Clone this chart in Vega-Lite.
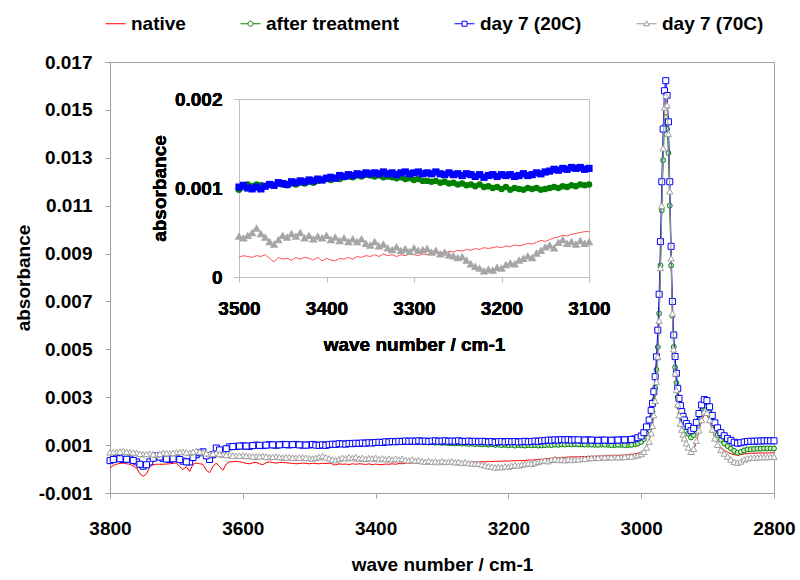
{
"$schema": "https://vega.github.io/schema/vega-lite/v6.json",
"width": 664, "height": 431,
"autosize": {"type": "none"},
"padding": {"left": 110, "top": 62, "right": 26, "bottom": 87},
"background": "#ffffff",
"config": {
  "font": "Liberation Sans",
  "view": {"stroke": "#a0a0a0", "strokeWidth": 1},
  "axis": {"labelFont": "Liberation Sans", "titleFont": "Liberation Sans", "labelFontSize": 19, "labelFontWeight": "bold", "labelColor": "#000000", "titleFontSize": 19, "titleFontWeight": "bold", "titleColor": "#000000", "domainColor": "#a0a0a0", "tickColor": "#a0a0a0", "tickSize": 5, "grid": false, "labelOverlap": false},
  "legend": {"orient": "none", "legendX": -5, "legendY": -49, "direction": "horizontal", "columns": 4, "padding": 0, "labelFont": "Liberation Sans", "labelFontSize": 19, "labelFontWeight": "bold", "labelColor": "#000000", "symbolSize": 400, "symbolStrokeWidth": 1, "symbolOpacity": 1, "labelOffset": 5, "columnPadding": 52, "labelLimit": 300}
},
"data": {"values": [
{"s":"n","x":3800,"y":0.00005},{"s":"n","x":3790,"y":0.0002},{"s":"n","x":3780,"y":0.00025},{"s":"n","x":3770,"y":0.0002},{"s":"n","x":3760,"y":0.00005},{"s":"n","x":3750,"y":-0.0003},{"s":"n","x":3740,"y":0.0001},{"s":"n","x":3730,"y":0.0002},{"s":"n","x":3720,"y":0.0002},{"s":"n","x":3710,"y":0.00022},{"s":"n","x":3700,"y":0.00025},{"s":"n","x":3690,"y":-0.00002},{"s":"n","x":3680,"y":-0.0001},{"s":"n","x":3670,"y":0.00025},{"s":"n","x":3660,"y":0.0002},{"s":"n","x":3650,"y":-0.00015},{"s":"n","x":3640,"y":0.00025},{"s":"n","x":3630,"y":-0.00005},{"s":"n","x":3620,"y":0.0003},{"s":"n","x":3610,"y":0.00032},{"s":"n","x":3600,"y":0.00028},{"s":"n","x":3590,"y":0.00022},{"s":"n","x":3580,"y":0.00028},{"s":"n","x":3570,"y":0.00018},{"s":"n","x":3560,"y":0.0003},{"s":"n","x":3550,"y":0.00025},{"s":"n","x":3540,"y":0.00028},{"s":"n","x":3530,"y":0.00025},{"s":"n","x":3520,"y":0.00022},{"s":"n","x":3510,"y":0.00025},
{"s":"n","x":3500,"y":0.00022},{"s":"n","x":3495,"y":0.00024},{"s":"n","x":3490,"y":0.00023},{"s":"n","x":3485,"y":0.00022},{"s":"n","x":3480,"y":0.00024},{"s":"n","x":3475,"y":0.00023},{"s":"n","x":3470,"y":0.00025},{"s":"n","x":3465,"y":0.00021},{"s":"n","x":3460,"y":0.00017},{"s":"n","x":3455,"y":0.00022},
{"s":"n","x":3450,"y":0.0002},{"s":"n","x":3445,"y":0.00021},{"s":"n","x":3440,"y":0.00019},{"s":"n","x":3435,"y":0.00022},{"s":"n","x":3430,"y":0.0002},{"s":"n","x":3425,"y":0.00022},{"s":"n","x":3420,"y":0.00021},{"s":"n","x":3415,"y":0.00019},{"s":"n","x":3410,"y":0.00022},{"s":"n","x":3405,"y":0.00018},
{"s":"n","x":3400,"y":0.00021},{"s":"n","x":3395,"y":0.00019},{"s":"n","x":3390,"y":0.00018},{"s":"n","x":3385,"y":0.00021},{"s":"n","x":3380,"y":0.0002},{"s":"n","x":3375,"y":0.00022},{"s":"n","x":3370,"y":0.0002},{"s":"n","x":3365,"y":0.00023},{"s":"n","x":3360,"y":0.00022},{"s":"n","x":3355,"y":0.00024},
{"s":"n","x":3350,"y":0.00023},{"s":"n","x":3345,"y":0.00025},{"s":"n","x":3340,"y":0.00023},{"s":"n","x":3335,"y":0.00026},{"s":"n","x":3330,"y":0.00024},{"s":"n","x":3325,"y":0.00025},{"s":"n","x":3320,"y":0.00023},{"s":"n","x":3315,"y":0.00025},{"s":"n","x":3310,"y":0.00024},{"s":"n","x":3305,"y":0.00026},
{"s":"n","x":3300,"y":0.00025},{"s":"n","x":3295,"y":0.00024},{"s":"n","x":3290,"y":0.00026},{"s":"n","x":3285,"y":0.00025},{"s":"n","x":3280,"y":0.00027},{"s":"n","x":3275,"y":0.00026},{"s":"n","x":3270,"y":0.00028},{"s":"n","x":3265,"y":0.00027},{"s":"n","x":3260,"y":0.00029},{"s":"n","x":3255,"y":0.00028},
{"s":"n","x":3250,"y":0.0003},{"s":"n","x":3245,"y":0.00029},{"s":"n","x":3240,"y":0.00031},{"s":"n","x":3235,"y":0.0003},{"s":"n","x":3230,"y":0.00032},{"s":"n","x":3225,"y":0.00031},{"s":"n","x":3220,"y":0.00033},{"s":"n","x":3215,"y":0.00032},{"s":"n","x":3210,"y":0.00033},{"s":"n","x":3205,"y":0.00034},
{"s":"n","x":3200,"y":0.00033},{"s":"n","x":3195,"y":0.00035},{"s":"n","x":3190,"y":0.00034},{"s":"n","x":3185,"y":0.00036},{"s":"n","x":3180,"y":0.00035},{"s":"n","x":3175,"y":0.00036},{"s":"n","x":3170,"y":0.00038},{"s":"n","x":3165,"y":0.00037},{"s":"n","x":3160,"y":0.00039},{"s":"n","x":3155,"y":0.00041},
{"s":"n","x":3150,"y":0.0004},{"s":"n","x":3145,"y":0.00042},{"s":"n","x":3140,"y":0.00044},{"s":"n","x":3135,"y":0.00045},{"s":"n","x":3130,"y":0.00047},{"s":"n","x":3125,"y":0.00046},{"s":"n","x":3120,"y":0.00048},{"s":"n","x":3115,"y":0.00049},{"s":"n","x":3110,"y":0.0005},{"s":"n","x":3105,"y":0.00051},
{"s":"n","x":3100,"y":0.00051},
{"s":"n","x":3090,"y":0.00052},{"s":"n","x":3080,"y":0.00053},{"s":"n","x":3070,"y":0.00054},{"s":"n","x":3060,"y":0.00055},{"s":"n","x":3050,"y":0.00056},{"s":"n","x":3040,"y":0.00057},{"s":"n","x":3030,"y":0.00058},
{"s":"n","x":3020,"y":0.0006},{"s":"n","x":3010,"y":0.00063},{"s":"n","x":3005,"y":0.00066},{"s":"n","x":3000,"y":0.0007},{"s":"n","x":2996,"y":0.0008},{"s":"n","x":2992,"y":0.00098},{"s":"n","x":2988,"y":0.00122},{"s":"n","x":2985,"y":0.00156},{"s":"n","x":2983,"y":0.00185},{"s":"n","x":2981,"y":0.0023},{"s":"n","x":2979,"y":0.0029},{"s":"n","x":2977,"y":0.0037},{"s":"n","x":2975,"y":0.0047},{"s":"n","x":2973,"y":0.0062},{"s":"n","x":2971,"y":0.0084},{"s":"n","x":2969,"y":0.0109},{"s":"n","x":2967,"y":0.0133},{"s":"n","x":2965,"y":0.015},{"s":"n","x":2963,"y":0.0155},{"s":"n","x":2961,"y":0.0151},{"s":"n","x":2959,"y":0.0139},{"s":"n","x":2957,"y":0.0115},{"s":"n","x":2955,"y":0.0088},{"s":"n","x":2953,"y":0.0065},{"s":"n","x":2951,"y":0.005},{"s":"n","x":2949,"y":0.004},{"s":"n","x":2947,"y":0.0033},{"s":"n","x":2945,"y":0.0027},{"s":"n","x":2943,"y":0.00228},{"s":"n","x":2941,"y":0.00195},{"s":"n","x":2939,"y":0.0017},{"s":"n","x":2937,"y":0.0015},{"s":"n","x":2935,"y":0.00135},{"s":"n","x":2932,"y":0.00115},{"s":"n","x":2929,"y":0.00095},{"s":"n","x":2925,"y":0.00068},{"s":"n","x":2921,"y":0.0008},{"s":"n","x":2917,"y":0.00112},{"s":"n","x":2913,"y":0.0016},{"s":"n","x":2909,"y":0.002},{"s":"n","x":2905,"y":0.00228},{"s":"n","x":2901,"y":0.00226},{"s":"n","x":2897,"y":0.002},{"s":"n","x":2893,"y":0.00162},{"s":"n","x":2889,"y":0.0013},{"s":"n","x":2885,"y":0.00108},{"s":"n","x":2880,"y":0.0009},{"s":"n","x":2875,"y":0.00078},{"s":"n","x":2870,"y":0.0007},{"s":"n","x":2865,"y":0.00064},{"s":"n","x":2860,"y":0.0006},{"s":"n","x":2855,"y":0.00058},{"s":"n","x":2850,"y":0.0006},{"s":"n","x":2845,"y":0.00063},{"s":"n","x":2840,"y":0.00065},{"s":"n","x":2835,"y":0.00066},{"s":"n","x":2830,"y":0.00066},{"s":"n","x":2825,"y":0.00067},{"s":"n","x":2820,"y":0.00067},{"s":"n","x":2815,"y":0.00067},{"s":"n","x":2810,"y":0.00067},{"s":"n","x":2805,"y":0.00068},{"s":"n","x":2800,"y":0.00068},

{"s":"a","x":3800,"y":0.00033},{"s":"a","x":3790,"y":0.00042},{"s":"a","x":3780,"y":0.00038},{"s":"a","x":3770,"y":0.0004},{"s":"a","x":3760,"y":0.00028},{"s":"a","x":3750,"y":0.0001},{"s":"a","x":3740,"y":0.00028},{"s":"a","x":3730,"y":0.00052},{"s":"a","x":3720,"y":0.00043},{"s":"a","x":3710,"y":0.00038},{"s":"a","x":3700,"y":0.00042},{"s":"a","x":3690,"y":0.0003},{"s":"a","x":3680,"y":0.00027},{"s":"a","x":3670,"y":0.00057},{"s":"a","x":3660,"y":0.00069},{"s":"a","x":3650,"y":0.00037},{"s":"a","x":3640,"y":0.00085},{"s":"a","x":3630,"y":0.00067},{"s":"a","x":3620,"y":0.0009},{"s":"a","x":3610,"y":0.00092},{"s":"a","x":3600,"y":0.00094},{"s":"a","x":3590,"y":0.00092},{"s":"a","x":3580,"y":0.00097},{"s":"a","x":3570,"y":0.00095},{"s":"a","x":3560,"y":0.00099},{"s":"a","x":3550,"y":0.00097},{"s":"a","x":3540,"y":0.001},{"s":"a","x":3530,"y":0.00099},{"s":"a","x":3520,"y":0.00101},{"s":"a","x":3510,"y":0.00099},
{"s":"a","x":3500,"y":0.00098},{"s":"a","x":3495,"y":0.00101},{"s":"a","x":3490,"y":0.00104},{"s":"a","x":3485,"y":0.00102},{"s":"a","x":3480,"y":0.00104},{"s":"a","x":3475,"y":0.00103},{"s":"a","x":3470,"y":0.00102},{"s":"a","x":3465,"y":0.00104},{"s":"a","x":3460,"y":0.00103},{"s":"a","x":3455,"y":0.00105},
{"s":"a","x":3450,"y":0.00104},{"s":"a","x":3445,"y":0.00103},{"s":"a","x":3440,"y":0.00105},{"s":"a","x":3435,"y":0.00104},{"s":"a","x":3430,"y":0.00106},{"s":"a","x":3425,"y":0.00105},{"s":"a","x":3420,"y":0.00107},{"s":"a","x":3415,"y":0.00106},{"s":"a","x":3410,"y":0.00108},{"s":"a","x":3405,"y":0.00109},
{"s":"a","x":3400,"y":0.0011},{"s":"a","x":3395,"y":0.00109},{"s":"a","x":3390,"y":0.00111},{"s":"a","x":3385,"y":0.0011},{"s":"a","x":3380,"y":0.00112},{"s":"a","x":3375,"y":0.00113},{"s":"a","x":3370,"y":0.00112},{"s":"a","x":3365,"y":0.00114},{"s":"a","x":3360,"y":0.00113},{"s":"a","x":3355,"y":0.00115},
{"s":"a","x":3350,"y":0.00114},{"s":"a","x":3345,"y":0.00113},{"s":"a","x":3340,"y":0.00114},{"s":"a","x":3335,"y":0.00112},{"s":"a","x":3330,"y":0.00113},{"s":"a","x":3325,"y":0.00112},{"s":"a","x":3320,"y":0.00111},{"s":"a","x":3315,"y":0.00112},{"s":"a","x":3310,"y":0.0011},{"s":"a","x":3305,"y":0.00111},
{"s":"a","x":3300,"y":0.00109},{"s":"a","x":3295,"y":0.0011},{"s":"a","x":3290,"y":0.00108},{"s":"a","x":3285,"y":0.00108},{"s":"a","x":3280,"y":0.00107},{"s":"a","x":3275,"y":0.00108},{"s":"a","x":3270,"y":0.00106},{"s":"a","x":3265,"y":0.00107},{"s":"a","x":3260,"y":0.00105},{"s":"a","x":3255,"y":0.00106},
{"s":"a","x":3250,"y":0.00104},{"s":"a","x":3245,"y":0.00105},{"s":"a","x":3240,"y":0.00103},{"s":"a","x":3235,"y":0.00104},{"s":"a","x":3230,"y":0.00102},{"s":"a","x":3225,"y":0.00104},{"s":"a","x":3220,"y":0.00101},{"s":"a","x":3215,"y":0.00102},{"s":"a","x":3210,"y":0.001},{"s":"a","x":3205,"y":0.00101},
{"s":"a","x":3200,"y":0.00099},{"s":"a","x":3195,"y":0.00101},{"s":"a","x":3190,"y":0.00098},{"s":"a","x":3185,"y":0.001},{"s":"a","x":3180,"y":0.00099},{"s":"a","x":3175,"y":0.00098},{"s":"a","x":3170,"y":0.001},{"s":"a","x":3165,"y":0.00099},{"s":"a","x":3160,"y":0.001},{"s":"a","x":3155,"y":0.00098},
{"s":"a","x":3150,"y":0.00099},{"s":"a","x":3145,"y":0.001},{"s":"a","x":3140,"y":0.00101},{"s":"a","x":3135,"y":0.001},{"s":"a","x":3130,"y":0.00102},{"s":"a","x":3125,"y":0.00101},{"s":"a","x":3120,"y":0.00103},{"s":"a","x":3115,"y":0.00102},{"s":"a","x":3110,"y":0.00104},{"s":"a","x":3105,"y":0.00103},
{"s":"a","x":3100,"y":0.00104},
{"s":"a","x":3090,"y":0.00103},{"s":"a","x":3080,"y":0.00102},{"s":"a","x":3070,"y":0.00101},{"s":"a","x":3060,"y":0.00102},{"s":"a","x":3050,"y":0.00101},{"s":"a","x":3040,"y":0.001},{"s":"a","x":3030,"y":0.00101},
{"s":"a","x":3020,"y":0.001},{"s":"a","x":3010,"y":0.00103},{"s":"a","x":3005,"y":0.00107},{"s":"a","x":3000,"y":0.00113},{"s":"a","x":2996,"y":0.00125},{"s":"a","x":2992,"y":0.00148},{"s":"a","x":2988,"y":0.00175},{"s":"a","x":2985,"y":0.00212},{"s":"a","x":2983,"y":0.0024},{"s":"a","x":2981,"y":0.00285},{"s":"a","x":2979,"y":0.0034},{"s":"a","x":2977,"y":0.00415},{"s":"a","x":2975,"y":0.0051},{"s":"a","x":2973,"y":0.0065},{"s":"a","x":2971,"y":0.0085},{"s":"a","x":2969,"y":0.0108},{"s":"a","x":2967,"y":0.0129},{"s":"a","x":2965,"y":0.0143},{"s":"a","x":2963,"y":0.0147},{"s":"a","x":2961,"y":0.0142},{"s":"a","x":2959,"y":0.0132},{"s":"a","x":2957,"y":0.011},{"s":"a","x":2955,"y":0.0085},{"s":"a","x":2953,"y":0.0064},{"s":"a","x":2951,"y":0.0051},{"s":"a","x":2949,"y":0.00425},{"s":"a","x":2947,"y":0.0036},{"s":"a","x":2945,"y":0.003},{"s":"a","x":2943,"y":0.0026},{"s":"a","x":2941,"y":0.00232},{"s":"a","x":2939,"y":0.0021},{"s":"a","x":2937,"y":0.0019},{"s":"a","x":2935,"y":0.00175},{"s":"a","x":2932,"y":0.0016},{"s":"a","x":2929,"y":0.00148},{"s":"a","x":2925,"y":0.00132},{"s":"a","x":2921,"y":0.00142},{"s":"a","x":2917,"y":0.00168},{"s":"a","x":2913,"y":0.00205},{"s":"a","x":2909,"y":0.00242},{"s":"a","x":2905,"y":0.00266},{"s":"a","x":2901,"y":0.00262},{"s":"a","x":2897,"y":0.00236},{"s":"a","x":2893,"y":0.00198},{"s":"a","x":2889,"y":0.00165},{"s":"a","x":2885,"y":0.00142},{"s":"a","x":2880,"y":0.00122},{"s":"a","x":2875,"y":0.00107},{"s":"a","x":2870,"y":0.00096},{"s":"a","x":2865,"y":0.00086},{"s":"a","x":2860,"y":0.00076},{"s":"a","x":2855,"y":0.00068},{"s":"a","x":2850,"y":0.00072},{"s":"a","x":2845,"y":0.00078},{"s":"a","x":2840,"y":0.00082},{"s":"a","x":2835,"y":0.00083},{"s":"a","x":2830,"y":0.00084},{"s":"a","x":2825,"y":0.00085},{"s":"a","x":2820,"y":0.00085},{"s":"a","x":2815,"y":0.00086},{"s":"a","x":2810,"y":0.00086},{"s":"a","x":2805,"y":0.00086},{"s":"a","x":2800,"y":0.00086},

{"s":"b","x":3800,"y":0.00035},{"s":"b","x":3790,"y":0.00045},{"s":"b","x":3780,"y":0.0004},{"s":"b","x":3770,"y":0.00042},{"s":"b","x":3760,"y":0.0003},{"s":"b","x":3750,"y":0.00012},{"s":"b","x":3740,"y":0.0003},{"s":"b","x":3730,"y":0.00055},{"s":"b","x":3720,"y":0.00045},{"s":"b","x":3710,"y":0.0004},{"s":"b","x":3700,"y":0.00045},{"s":"b","x":3690,"y":0.00033},{"s":"b","x":3680,"y":0.0003},{"s":"b","x":3670,"y":0.0006},{"s":"b","x":3660,"y":0.00072},{"s":"b","x":3650,"y":0.0004},{"s":"b","x":3640,"y":0.00088},{"s":"b","x":3630,"y":0.0007},{"s":"b","x":3620,"y":0.00093},{"s":"b","x":3610,"y":0.00095},{"s":"b","x":3600,"y":0.00097},{"s":"b","x":3590,"y":0.00095},{"s":"b","x":3580,"y":0.001},{"s":"b","x":3570,"y":0.00098},{"s":"b","x":3560,"y":0.00102},{"s":"b","x":3550,"y":0.001},{"s":"b","x":3540,"y":0.00103},{"s":"b","x":3530,"y":0.00101},{"s":"b","x":3520,"y":0.00103},{"s":"b","x":3510,"y":0.001},
{"s":"b","x":3500,"y":0.00101},{"s":"b","x":3495,"y":0.00103},{"s":"b","x":3490,"y":0.001},{"s":"b","x":3485,"y":0.00099},{"s":"b","x":3480,"y":0.00101},{"s":"b","x":3475,"y":0.00099},{"s":"b","x":3470,"y":0.00102},{"s":"b","x":3465,"y":0.00104},{"s":"b","x":3460,"y":0.00103},{"s":"b","x":3455,"y":0.00106},
{"s":"b","x":3450,"y":0.00105},{"s":"b","x":3445,"y":0.00104},{"s":"b","x":3440,"y":0.00107},{"s":"b","x":3435,"y":0.00106},{"s":"b","x":3430,"y":0.00108},{"s":"b","x":3425,"y":0.00107},{"s":"b","x":3420,"y":0.00109},{"s":"b","x":3415,"y":0.00108},{"s":"b","x":3410,"y":0.0011},{"s":"b","x":3405,"y":0.00109},
{"s":"b","x":3400,"y":0.00111},{"s":"b","x":3395,"y":0.00112},{"s":"b","x":3390,"y":0.00111},{"s":"b","x":3385,"y":0.00114},{"s":"b","x":3380,"y":0.00113},{"s":"b","x":3375,"y":0.00115},{"s":"b","x":3370,"y":0.00114},{"s":"b","x":3365,"y":0.00116},{"s":"b","x":3360,"y":0.00115},{"s":"b","x":3355,"y":0.00117},
{"s":"b","x":3350,"y":0.00116},{"s":"b","x":3345,"y":0.00117},{"s":"b","x":3340,"y":0.00116},{"s":"b","x":3335,"y":0.00118},{"s":"b","x":3330,"y":0.00116},{"s":"b","x":3325,"y":0.00117},{"s":"b","x":3320,"y":0.00115},{"s":"b","x":3315,"y":0.00117},{"s":"b","x":3310,"y":0.00118},{"s":"b","x":3305,"y":0.00116},
{"s":"b","x":3300,"y":0.00117},{"s":"b","x":3295,"y":0.00118},{"s":"b","x":3290,"y":0.00116},{"s":"b","x":3285,"y":0.00117},{"s":"b","x":3280,"y":0.00116},{"s":"b","x":3275,"y":0.00118},{"s":"b","x":3270,"y":0.00116},{"s":"b","x":3265,"y":0.00115},{"s":"b","x":3260,"y":0.00117},{"s":"b","x":3255,"y":0.00115},
{"s":"b","x":3250,"y":0.00116},{"s":"b","x":3245,"y":0.00114},{"s":"b","x":3240,"y":0.00116},{"s":"b","x":3235,"y":0.00115},{"s":"b","x":3230,"y":0.00113},{"s":"b","x":3225,"y":0.00115},{"s":"b","x":3220,"y":0.00112},{"s":"b","x":3215,"y":0.00114},{"s":"b","x":3210,"y":0.00115},{"s":"b","x":3205,"y":0.00113},
{"s":"b","x":3200,"y":0.00115},{"s":"b","x":3195,"y":0.00114},{"s":"b","x":3190,"y":0.00115},{"s":"b","x":3185,"y":0.00113},{"s":"b","x":3180,"y":0.00114},{"s":"b","x":3175,"y":0.00116},{"s":"b","x":3170,"y":0.00114},{"s":"b","x":3165,"y":0.00115},{"s":"b","x":3160,"y":0.00117},{"s":"b","x":3155,"y":0.00116},
{"s":"b","x":3150,"y":0.00118},{"s":"b","x":3145,"y":0.00119},{"s":"b","x":3140,"y":0.00121},{"s":"b","x":3135,"y":0.0012},{"s":"b","x":3130,"y":0.00122},{"s":"b","x":3125,"y":0.00121},{"s":"b","x":3120,"y":0.00123},{"s":"b","x":3115,"y":0.00122},{"s":"b","x":3110,"y":0.00123},{"s":"b","x":3105,"y":0.00121},
{"s":"b","x":3100,"y":0.00122},
{"s":"b","x":3090,"y":0.00121},{"s":"b","x":3080,"y":0.00122},{"s":"b","x":3070,"y":0.0012},{"s":"b","x":3060,"y":0.00121},{"s":"b","x":3050,"y":0.0012},{"s":"b","x":3040,"y":0.00121},{"s":"b","x":3030,"y":0.00122},
{"s":"b","x":3020,"y":0.00122},{"s":"b","x":3010,"y":0.00126},{"s":"b","x":3005,"y":0.00131},{"s":"b","x":3000,"y":0.00138},{"s":"b","x":2996,"y":0.00152},{"s":"b","x":2992,"y":0.00176},{"s":"b","x":2988,"y":0.00205},{"s":"b","x":2985,"y":0.00245},{"s":"b","x":2983,"y":0.00274},{"s":"b","x":2981,"y":0.00323},{"s":"b","x":2979,"y":0.00386},{"s":"b","x":2977,"y":0.00469},{"s":"b","x":2975,"y":0.0058},{"s":"b","x":2973,"y":0.0073},{"s":"b","x":2971,"y":0.0095},{"s":"b","x":2969,"y":0.012},{"s":"b","x":2967,"y":0.0142},{"s":"b","x":2965,"y":0.0158},{"s":"b","x":2963,"y":0.01622},{"s":"b","x":2961,"y":0.0156},{"s":"b","x":2959,"y":0.0145},{"s":"b","x":2957,"y":0.012},{"s":"b","x":2955,"y":0.0093},{"s":"b","x":2953,"y":0.007},{"s":"b","x":2951,"y":0.0056},{"s":"b","x":2949,"y":0.0047},{"s":"b","x":2947,"y":0.004},{"s":"b","x":2945,"y":0.00337},{"s":"b","x":2943,"y":0.00295},{"s":"b","x":2941,"y":0.00265},{"s":"b","x":2939,"y":0.0024},{"s":"b","x":2937,"y":0.0022},{"s":"b","x":2935,"y":0.00205},{"s":"b","x":2932,"y":0.0019},{"s":"b","x":2929,"y":0.00178},{"s":"b","x":2925,"y":0.0016},{"s":"b","x":2921,"y":0.0017},{"s":"b","x":2917,"y":0.00195},{"s":"b","x":2913,"y":0.00232},{"s":"b","x":2909,"y":0.00268},{"s":"b","x":2905,"y":0.0029},{"s":"b","x":2901,"y":0.00286},{"s":"b","x":2897,"y":0.0026},{"s":"b","x":2893,"y":0.00224},{"s":"b","x":2889,"y":0.00193},{"s":"b","x":2885,"y":0.00172},{"s":"b","x":2880,"y":0.00152},{"s":"b","x":2875,"y":0.00139},{"s":"b","x":2870,"y":0.00128},{"s":"b","x":2865,"y":0.0012},{"s":"b","x":2860,"y":0.00112},{"s":"b","x":2855,"y":0.00108},{"s":"b","x":2850,"y":0.0011},{"s":"b","x":2845,"y":0.00113},{"s":"b","x":2840,"y":0.00115},{"s":"b","x":2835,"y":0.00116},{"s":"b","x":2830,"y":0.00116},{"s":"b","x":2825,"y":0.00117},{"s":"b","x":2820,"y":0.00117},{"s":"b","x":2815,"y":0.00118},{"s":"b","x":2810,"y":0.00118},{"s":"b","x":2805,"y":0.00118},{"s":"b","x":2800,"y":0.00118},

{"s":"c","x":3800,"y":0.0007},{"s":"c","x":3790,"y":0.00072},{"s":"c","x":3780,"y":0.00074},{"s":"c","x":3770,"y":0.0007},{"s":"c","x":3760,"y":0.00068},{"s":"c","x":3750,"y":0.00062},{"s":"c","x":3740,"y":0.00065},{"s":"c","x":3730,"y":0.0006},{"s":"c","x":3720,"y":0.00068},{"s":"c","x":3710,"y":0.00066},{"s":"c","x":3700,"y":0.0007},{"s":"c","x":3690,"y":0.00072},{"s":"c","x":3680,"y":0.00068},{"s":"c","x":3670,"y":0.00076},{"s":"c","x":3660,"y":0.0007},{"s":"c","x":3650,"y":0.00062},{"s":"c","x":3640,"y":0.00066},{"s":"c","x":3630,"y":0.0006},{"s":"c","x":3620,"y":0.00058},{"s":"c","x":3610,"y":0.00055},{"s":"c","x":3600,"y":0.00057},{"s":"c","x":3590,"y":0.00054},{"s":"c","x":3580,"y":0.00052},{"s":"c","x":3570,"y":0.00055},{"s":"c","x":3560,"y":0.0005},{"s":"c","x":3550,"y":0.00052},{"s":"c","x":3540,"y":0.00048},{"s":"c","x":3530,"y":0.0005},{"s":"c","x":3520,"y":0.00047},{"s":"c","x":3510,"y":0.00049},
{"s":"c","x":3500,"y":0.00046},{"s":"c","x":3495,"y":0.00044},{"s":"c","x":3490,"y":0.00047},{"s":"c","x":3485,"y":0.0005},{"s":"c","x":3480,"y":0.00055},{"s":"c","x":3475,"y":0.00049},{"s":"c","x":3470,"y":0.00045},{"s":"c","x":3465,"y":0.0004},{"s":"c","x":3460,"y":0.00037},{"s":"c","x":3455,"y":0.00042},
{"s":"c","x":3450,"y":0.00047},{"s":"c","x":3445,"y":0.00045},{"s":"c","x":3440,"y":0.00049},{"s":"c","x":3435,"y":0.00046},{"s":"c","x":3430,"y":0.0005},{"s":"c","x":3425,"y":0.00044},{"s":"c","x":3420,"y":0.00047},{"s":"c","x":3415,"y":0.00043},{"s":"c","x":3410,"y":0.00046},{"s":"c","x":3405,"y":0.00044},
{"s":"c","x":3400,"y":0.00047},{"s":"c","x":3395,"y":0.00042},{"s":"c","x":3390,"y":0.00045},{"s":"c","x":3385,"y":0.00041},{"s":"c","x":3380,"y":0.00044},{"s":"c","x":3375,"y":0.0004},{"s":"c","x":3370,"y":0.00043},{"s":"c","x":3365,"y":0.0004},{"s":"c","x":3360,"y":0.00043},{"s":"c","x":3355,"y":0.00038},
{"s":"c","x":3350,"y":0.00036},{"s":"c","x":3345,"y":0.0004},{"s":"c","x":3340,"y":0.00035},{"s":"c","x":3335,"y":0.00037},{"s":"c","x":3330,"y":0.00033},{"s":"c","x":3325,"y":0.00031},{"s":"c","x":3320,"y":0.00034},{"s":"c","x":3315,"y":0.0003},{"s":"c","x":3310,"y":0.00032},{"s":"c","x":3305,"y":0.00029},
{"s":"c","x":3300,"y":0.00033},{"s":"c","x":3295,"y":0.0003},{"s":"c","x":3290,"y":0.00031},{"s":"c","x":3285,"y":0.00032},{"s":"c","x":3280,"y":0.00028},{"s":"c","x":3275,"y":0.0003},{"s":"c","x":3270,"y":0.00026},{"s":"c","x":3265,"y":0.00028},{"s":"c","x":3260,"y":0.00025},{"s":"c","x":3255,"y":0.00024},
{"s":"c","x":3250,"y":0.00022},{"s":"c","x":3245,"y":0.00023},{"s":"c","x":3240,"y":0.00019},{"s":"c","x":3235,"y":0.00015},{"s":"c","x":3230,"y":0.00012},{"s":"c","x":3225,"y":0.0001},{"s":"c","x":3220,"y":0.00007},{"s":"c","x":3215,"y":0.00009},{"s":"c","x":3210,"y":0.00008},{"s":"c","x":3205,"y":0.00011},
{"s":"c","x":3200,"y":0.0001},{"s":"c","x":3195,"y":0.00014},{"s":"c","x":3190,"y":0.00016},{"s":"c","x":3185,"y":0.00015},{"s":"c","x":3180,"y":0.00019},{"s":"c","x":3175,"y":0.00021},{"s":"c","x":3170,"y":0.00024},{"s":"c","x":3165,"y":0.00022},{"s":"c","x":3160,"y":0.00027},{"s":"c","x":3155,"y":0.0003},
{"s":"c","x":3150,"y":0.00034},{"s":"c","x":3145,"y":0.00036},{"s":"c","x":3140,"y":0.00033},{"s":"c","x":3135,"y":0.00039},{"s":"c","x":3130,"y":0.00042},{"s":"c","x":3125,"y":0.00038},{"s":"c","x":3120,"y":0.0004},{"s":"c","x":3115,"y":0.00037},{"s":"c","x":3110,"y":0.00041},{"s":"c","x":3105,"y":0.00038},
{"s":"c","x":3100,"y":0.0004},
{"s":"c","x":3090,"y":0.00042},{"s":"c","x":3080,"y":0.00045},{"s":"c","x":3070,"y":0.00047},{"s":"c","x":3060,"y":0.00048},{"s":"c","x":3050,"y":0.00049},{"s":"c","x":3040,"y":0.0005},{"s":"c","x":3030,"y":0.0005},
{"s":"c","x":3020,"y":0.00052},{"s":"c","x":3010,"y":0.00055},{"s":"c","x":3005,"y":0.00058},{"s":"c","x":3000,"y":0.00063},{"s":"c","x":2996,"y":0.00072},{"s":"c","x":2992,"y":0.0009},{"s":"c","x":2988,"y":0.00115},{"s":"c","x":2985,"y":0.0015},{"s":"c","x":2983,"y":0.0018},{"s":"c","x":2981,"y":0.00225},{"s":"c","x":2979,"y":0.00285},{"s":"c","x":2977,"y":0.00365},{"s":"c","x":2975,"y":0.0047},{"s":"c","x":2973,"y":0.0062},{"s":"c","x":2971,"y":0.0084},{"s":"c","x":2969,"y":0.011},{"s":"c","x":2967,"y":0.0134},{"s":"c","x":2965,"y":0.0151},{"s":"c","x":2963,"y":0.0156},{"s":"c","x":2961,"y":0.0152},{"s":"c","x":2959,"y":0.014},{"s":"c","x":2957,"y":0.0116},{"s":"c","x":2955,"y":0.0088},{"s":"c","x":2953,"y":0.0065},{"s":"c","x":2951,"y":0.005},{"s":"c","x":2949,"y":0.004},{"s":"c","x":2947,"y":0.0033},{"s":"c","x":2945,"y":0.0027},{"s":"c","x":2943,"y":0.00225},{"s":"c","x":2941,"y":0.0019},{"s":"c","x":2939,"y":0.00165},{"s":"c","x":2937,"y":0.00145},{"s":"c","x":2935,"y":0.00128},{"s":"c","x":2932,"y":0.00108},{"s":"c","x":2929,"y":0.0009},{"s":"c","x":2925,"y":0.00072},{"s":"c","x":2921,"y":0.00085},{"s":"c","x":2917,"y":0.00118},{"s":"c","x":2913,"y":0.00162},{"s":"c","x":2909,"y":0.00205},{"s":"c","x":2905,"y":0.00238},{"s":"c","x":2901,"y":0.00235},{"s":"c","x":2897,"y":0.00205},{"s":"c","x":2893,"y":0.00165},{"s":"c","x":2889,"y":0.00128},{"s":"c","x":2885,"y":0.00102},{"s":"c","x":2880,"y":0.0008},{"s":"c","x":2875,"y":0.00065},{"s":"c","x":2870,"y":0.00052},{"s":"c","x":2865,"y":0.0004},{"s":"c","x":2860,"y":0.0003},{"s":"c","x":2855,"y":0.00027},{"s":"c","x":2850,"y":0.00032},{"s":"c","x":2845,"y":0.0004},{"s":"c","x":2840,"y":0.00045},{"s":"c","x":2835,"y":0.00047},{"s":"c","x":2830,"y":0.00048},{"s":"c","x":2825,"y":0.00049},{"s":"c","x":2820,"y":0.0005},{"s":"c","x":2815,"y":0.0005},{"s":"c","x":2810,"y":0.0005},{"s":"c","x":2805,"y":0.00051},{"s":"c","x":2800,"y":0.00052},

{"s":"n","x":3795,"y":0.00015},{"s":"n","x":3785,"y":0.00024},{"s":"n","x":3775,"y":0.00022},{"s":"n","x":3765,"y":0.00012},{"s":"n","x":3755,"y":-0.0002},{"s":"n","x":3745,"y":-0.0002},{"s":"n","x":3735,"y":0.00018},{"s":"n","x":3725,"y":0.0002},{"s":"n","x":3715,"y":0.00021},{"s":"n","x":3705,"y":0.00024},{"s":"n","x":3695,"y":0.0001},{"s":"n","x":3685,"y":0.0001},{"s":"n","x":3675,"y":0.0002},{"s":"n","x":3665,"y":0.00022},{"s":"n","x":3655,"y":-0.00005},{"s":"n","x":3645,"y":0.0001},{"s":"n","x":3635,"y":0.0001},{"s":"n","x":3625,"y":0.0002},{"s":"n","x":3615,"y":0.00031},{"s":"n","x":3605,"y":0.0003},{"s":"n","x":3595,"y":0.00024},{"s":"n","x":3585,"y":0.00026},{"s":"n","x":3575,"y":0.00022},{"s":"n","x":3565,"y":0.00026},{"s":"n","x":3555,"y":0.00027},{"s":"n","x":3545,"y":0.00027},{"s":"n","x":3535,"y":0.00026},{"s":"n","x":3525,"y":0.00024},{"s":"n","x":3515,"y":0.00023},{"s":"n","x":3505,"y":0.00024},
{"s":"b","x":3795,"y":0.0004},{"s":"b","x":3785,"y":0.00043},{"s":"b","x":3775,"y":0.00041},{"s":"b","x":3765,"y":0.00036},{"s":"b","x":3755,"y":0.0002},{"s":"b","x":3745,"y":0.00018},{"s":"b","x":3735,"y":0.00045},{"s":"b","x":3725,"y":0.0005},{"s":"b","x":3715,"y":0.00042},{"s":"b","x":3705,"y":0.00043},{"s":"b","x":3695,"y":0.0004},{"s":"b","x":3685,"y":0.0003},{"s":"b","x":3675,"y":0.00048},{"s":"b","x":3665,"y":0.00068},{"s":"b","x":3655,"y":0.00055},{"s":"b","x":3645,"y":0.0006},{"s":"b","x":3635,"y":0.0008},{"s":"b","x":3625,"y":0.00085},{"s":"b","x":3615,"y":0.00094},{"s":"b","x":3605,"y":0.00096},{"s":"b","x":3595,"y":0.00096},{"s":"b","x":3585,"y":0.00098},{"s":"b","x":3575,"y":0.00099},{"s":"b","x":3565,"y":0.001},{"s":"b","x":3555,"y":0.00101},{"s":"b","x":3545,"y":0.00101},{"s":"b","x":3535,"y":0.00102},{"s":"b","x":3525,"y":0.00102},{"s":"b","x":3515,"y":0.00101},{"s":"b","x":3505,"y":0.001},
{"s":"a","x":3795,"y":0.00037},{"s":"a","x":3785,"y":0.0004},{"s":"a","x":3775,"y":0.00038},{"s":"a","x":3765,"y":0.00033},{"s":"a","x":3755,"y":0.00017},{"s":"a","x":3745,"y":0.00015},{"s":"a","x":3735,"y":0.00042},{"s":"a","x":3725,"y":0.00047},{"s":"a","x":3715,"y":0.00039},{"s":"a","x":3705,"y":0.0004},{"s":"a","x":3695,"y":0.00037},{"s":"a","x":3685,"y":0.00027},{"s":"a","x":3675,"y":0.00045},{"s":"a","x":3665,"y":0.00065},{"s":"a","x":3655,"y":0.00052},{"s":"a","x":3645,"y":0.00057},{"s":"a","x":3635,"y":0.00077},{"s":"a","x":3625,"y":0.00082},{"s":"a","x":3615,"y":0.00091},{"s":"a","x":3605,"y":0.00093},{"s":"a","x":3595,"y":0.00093},{"s":"a","x":3585,"y":0.00095},{"s":"a","x":3575,"y":0.00096},{"s":"a","x":3565,"y":0.00097},{"s":"a","x":3555,"y":0.00098},{"s":"a","x":3545,"y":0.00098},{"s":"a","x":3535,"y":0.00099},{"s":"a","x":3525,"y":0.001},{"s":"a","x":3515,"y":0.001},{"s":"a","x":3505,"y":0.00099},
{"s":"c","x":3795,"y":0.00071},{"s":"c","x":3785,"y":0.00073},{"s":"c","x":3775,"y":0.00072},{"s":"c","x":3765,"y":0.00069},{"s":"c","x":3755,"y":0.00064},{"s":"c","x":3745,"y":0.00063},{"s":"c","x":3735,"y":0.00062},{"s":"c","x":3725,"y":0.00064},{"s":"c","x":3715,"y":0.00067},{"s":"c","x":3705,"y":0.00068},{"s":"c","x":3695,"y":0.00071},{"s":"c","x":3685,"y":0.0007},{"s":"c","x":3675,"y":0.00072},{"s":"c","x":3665,"y":0.00073},{"s":"c","x":3655,"y":0.00066},{"s":"c","x":3645,"y":0.00064},{"s":"c","x":3635,"y":0.00063},{"s":"c","x":3625,"y":0.00059},{"s":"c","x":3615,"y":0.00056},{"s":"c","x":3605,"y":0.00056},{"s":"c","x":3595,"y":0.00055},{"s":"c","x":3585,"y":0.00053},{"s":"c","x":3575,"y":0.00053},{"s":"c","x":3565,"y":0.00052},{"s":"c","x":3555,"y":0.00051},{"s":"c","x":3545,"y":0.0005},{"s":"c","x":3535,"y":0.00049},{"s":"c","x":3525,"y":0.00048},{"s":"c","x":3515,"y":0.00048},{"s":"c","x":3505,"y":0.00047},
{"s":"n","x":3095,"y":0.00051},{"s":"n","x":3085,"y":0.00052},{"s":"n","x":3075,"y":0.00053},{"s":"n","x":3065,"y":0.00054},{"s":"n","x":3055,"y":0.00055},{"s":"n","x":3045,"y":0.00056},{"s":"n","x":3035,"y":0.00057},{"s":"n","x":3025,"y":0.00059},{"s":"n","x":3015,"y":0.00062},
{"s":"a","x":3095,"y":0.00103},{"s":"a","x":3085,"y":0.00102},{"s":"a","x":3075,"y":0.00102},{"s":"a","x":3065,"y":0.00101},{"s":"a","x":3055,"y":0.00102},{"s":"a","x":3045,"y":0.001},{"s":"a","x":3035,"y":0.00101},{"s":"a","x":3025,"y":0.001},{"s":"a","x":3015,"y":0.00101},
{"s":"b","x":3095,"y":0.00122},{"s":"b","x":3085,"y":0.00121},{"s":"b","x":3075,"y":0.00121},{"s":"b","x":3065,"y":0.0012},{"s":"b","x":3055,"y":0.00121},{"s":"b","x":3045,"y":0.0012},{"s":"b","x":3035,"y":0.00121},{"s":"b","x":3025,"y":0.00122},{"s":"b","x":3015,"y":0.00124},
{"s":"c","x":3095,"y":0.00041},{"s":"c","x":3085,"y":0.00043},{"s":"c","x":3075,"y":0.00046},{"s":"c","x":3065,"y":0.00047},{"s":"c","x":3055,"y":0.00049},{"s":"c","x":3045,"y":0.00049},{"s":"c","x":3035,"y":0.0005},{"s":"c","x":3025,"y":0.00051},{"s":"c","x":3015,"y":0.00053}
]},
"layer": [
  {
    "encoding": {
      "x": {"field": "x", "type": "quantitative", "scale": {"domain": [3800, 2800], "nice": false, "zero": false},
            "axis": {"orient": "bottom", "title": "wave number / cm-1", "values": [3800, 3600, 3400, 3200, 3000, 2800], "format": "d", "labelPadding": 21, "titlePadding": 17, "labelFlush": false}},
      "y": {"field": "y", "type": "quantitative", "scale": {"domain": [-0.001, 0.017], "nice": false, "zero": false},
            "axis": {"orient": "left", "title": "absorbance", "values": [-0.001, 0.001, 0.003, 0.005, 0.007, 0.009, 0.011, 0.013, 0.015, 0.017], "labelExpr": "datum.value < 0 ? '-' + format(-datum.value, '.3f') : format(datum.value, '.3f')", "labelPadding": 13, "titlePadding": 5, "labelFlush": false}}
    },
    "layer": [
      {"transform": [{"filter": "datum.s == 'n'"}], "mark": {"type": "line", "color": "#ff0000", "strokeWidth": 1}},
      {"transform": [{"filter": "datum.s == 'a'"}], "mark": {"type": "line", "color": "#008000", "strokeWidth": 1}},
      {"transform": [{"filter": "datum.s == 'a'"}], "mark": {"type": "point", "shape": "circle", "size": 24, "filled": true, "fill": "#ccebc5", "stroke": "#008000", "strokeWidth": 1, "opacity": 1}},
      {"transform": [{"filter": "datum.s == 'b'"}], "mark": {"type": "line", "color": "#0000ff", "strokeWidth": 1}},
      {"transform": [{"filter": "datum.s == 'b'"}], "mark": {"type": "point", "shape": "square", "size": 36, "filled": true, "fill": "#ffffff", "stroke": "#0000ff", "strokeWidth": 1, "opacity": 1}},
      {"transform": [{"filter": "datum.s == 'c'"}], "mark": {"type": "line", "color": "#999999", "strokeWidth": 1}},
      {"transform": [{"filter": "datum.s == 'c'"}], "mark": {"type": "point", "shape": "triangle-up", "size": 40, "filled": true, "fill": "#ffffff", "stroke": "#a0a0a0", "strokeWidth": 1, "opacity": 1}},
      {"transform": [{"filter": "datum.x == 3800"}], "mark": {"type": "point", "filled": false, "opacity": 0},
       "encoding": {
         "color": {"field": "s", "type": "nominal", "scale": {"domain": ["n", "a", "b", "c"], "range": ["#ff0000", "#008000", "#0000ff", "#969696"]},
                   "legend": {"title": null, "labelExpr": "datum.value == 'n' ? 'native' : datum.value == 'a' ? 'after treatment' : datum.value == 'b' ? 'day 7 (20C)' : 'day 7 (70C)'"}},
         "shape": {"field": "s", "type": "nominal", "scale": {"domain": ["n", "a", "b", "c"], "range": ["M-1,0H1", "M-1,0H-0.25M0.25,0H1M0.25,0A0.25,0.25 0 1,1 -0.25,0A0.25,0.25 0 1,1 0.25,0", "M-1,0H-0.25M0.25,0H1M-0.25,-0.25H0.25V0.25H-0.25Z", "M-1,0H-0.2M0.2,0H1M0,-0.3L0.28,0.2H-0.28Z"]},
                   "legend": {"title": null, "labelExpr": "datum.value == 'n' ? 'native' : datum.value == 'a' ? 'after treatment' : datum.value == 'b' ? 'day 7 (20C)' : 'day 7 (70C)'"}}
       }}
    ]
  },
  {
    "transform": [{"filter": "datum.x <= 3500 && datum.x >= 3100"}],
    "encoding": {
      "x": {"field": "x", "type": "quantitative", "scale": {"domain": [3500, 3100], "range": [129, 479], "nice": false, "zero": false},
            "axis": {"orient": "bottom", "offset": -216, "title": "wave number / cm-1", "values": [3500, 3400, 3300, 3200, 3100], "format": "d", "labelPadding": 17, "titlePadding": 17, "labelFlush": false, "domainColor": "#c0c0c0", "tickColor": "#c0c0c0"}},
      "y": {"field": "y", "type": "quantitative", "scale": {"domain": [0, 0.002], "range": [215, 37], "nice": false, "zero": false},
            "axis": {"orient": "left", "offset": -129, "title": "absorbance", "values": [0, 0.001, 0.002], "labelExpr": "datum.value == 0 ? '0' : format(datum.value, '.3f')", "labelPadding": 12, "titlePadding": 5, "labelFlush": false, "domainColor": "#c0c0c0", "tickColor": "#c0c0c0"}}
    },
    "layer": [
      {"transform": [{"filter": "datum.s == 'n'"}], "mark": {"type": "line", "color": "#ff5050", "strokeWidth": 1}},
      {"transform": [{"filter": "datum.s == 'n'"}], "mark": {"type": "line", "opacity": 0},
       "encoding": {
         "x": {"field": "x", "type": "quantitative", "scale": {"domain": [3500, 3100], "range": [129, 479], "nice": false, "zero": false},
               "axis": {"orient": "top", "offset": -37, "labels": false, "ticks": false, "title": null, "domainColor": "#c0c0c0"}},
         "y": {"field": "y", "type": "quantitative", "scale": {"domain": [0, 0.002], "range": [215, 37], "nice": false, "zero": false},
               "axis": {"orient": "right", "offset": -185, "labels": false, "ticks": false, "title": null, "domainColor": "#c0c0c0"}}
       }},
      {"transform": [{"filter": "datum.s == 'a'"}], "mark": {"type": "point", "shape": "circle", "size": 42, "filled": true, "color": "#008000", "opacity": 1}},
      {"transform": [{"filter": "datum.s == 'b'"}], "mark": {"type": "point", "shape": "square", "size": 52, "filled": true, "color": "#0000ff", "opacity": 1}},
      {"transform": [{"filter": "datum.s == 'c'"}], "mark": {"type": "point", "shape": "triangle-up", "size": 75, "filled": true, "color": "#a6a6a6", "opacity": 1}}
    ],
    "resolve": {"axis": {"x": "independent", "y": "independent"}}
  }
],
"resolve": {"scale": {"x": "independent", "y": "independent"}, "axis": {"x": "independent", "y": "independent"}}
}
